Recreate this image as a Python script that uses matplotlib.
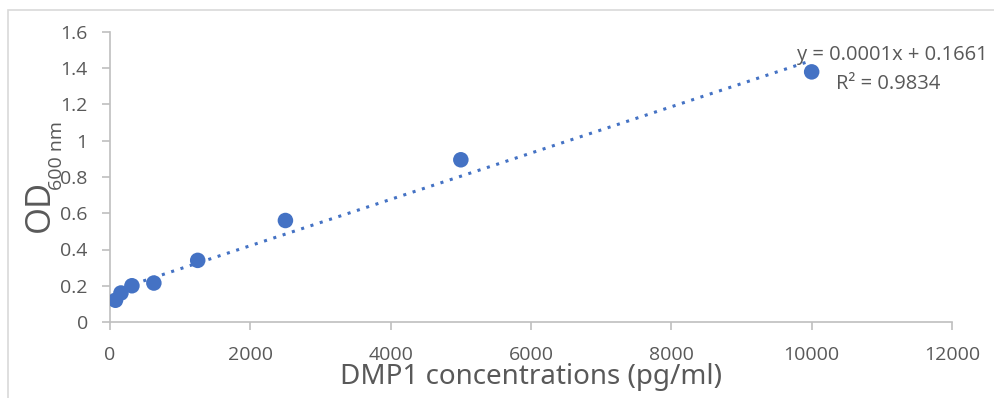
import numpy as np
import matplotlib.pyplot as plt
from matplotlib.patches import Rectangle

conc = [78.125, 156.25, 312.5, 625, 1250, 2500, 5000, 10000]
od = [0.12, 0.16, 0.20, 0.215, 0.34, 0.56, 0.895, 1.38]
eq_text = "y = 0.0001x + 0.1661"
r2_text = "R² = 0.9834"

W, H = 995, 398
fig = plt.figure(figsize=(W / 100, H / 100), dpi=100)
ax = fig.add_axes([110 / W, 1 - 322 / H, (952 - 110) / W, (322 - 32) / H])

# outer chart border
fig.patches.append(Rectangle((8 / W, -0.05), 1.2, 1 - 10 / H + 0.05, transform=fig.transFigure,
                             fill=False, edgecolor="#d9d9d9", linewidth=1.2))

blue = "#4472c4"
grey = "#595959"

# linear trendline
m, b = np.polyfit(conc, od, 1)
xs = np.array([min(conc), max(conc)])
ax.plot(xs, m * xs + b, linestyle=(0, (1, 2.2)), color=blue, linewidth=2.2)
ax.scatter(conc, od, s=125, color=blue, zorder=3, edgecolors="none")

ax.set_xlim(0, 12000)
ax.set_ylim(0, 1.6)
ax.set_xticks(np.arange(0, 12001, 2000))
ax.set_yticks(np.arange(0, 1.61, 0.2))
ax.set_yticklabels(["0", "0.2", "0.4", "0.6", "0.8", "1", "1.2", "1.4", "1.6"])

for s in ["top", "right"]:
    ax.spines[s].set_visible(False)
for s in ["left", "bottom"]:
    ax.spines[s].set_color("#bfbfbf")
    ax.spines[s].set_linewidth(1.2)
ax.tick_params(colors="#bfbfbf", labelcolor=grey, labelsize=14, length=6, width=1.2)
ax.tick_params(axis="x", pad=11)
ax.tick_params(axis="y", pad=10)
for lab in ax.get_xticklabels() + ax.get_yticklabels():
    lab.set_family("Open Sans")

fig.text(531 / W, 1 - 377 / H, "DMP1 concentrations (pg/ml)", ha="center", va="center",
         fontsize=20, color=grey, family="Noto Sans")
fig.text(40 / W, 1 - 206 / H, "OD", ha="center", va="center", rotation=90,
         fontsize=25, color=grey, family="Open Sans")
fig.text(57 / W, 1 - 156 / H, "600 nm", ha="center", va="center", rotation=90,
         fontsize=14, color=grey, family="Open Sans")

fig.text(988 / W, 1 - 55 / H, eq_text, ha="right", va="center", fontsize=14.5,
         color=grey, family="Open Sans")
fig.text(888 / W, 1 - 84 / H, r2_text, ha="center", va="center", fontsize=14.5,
         color=grey, family="Open Sans")

fig.savefig("out.png", dpi=100)
